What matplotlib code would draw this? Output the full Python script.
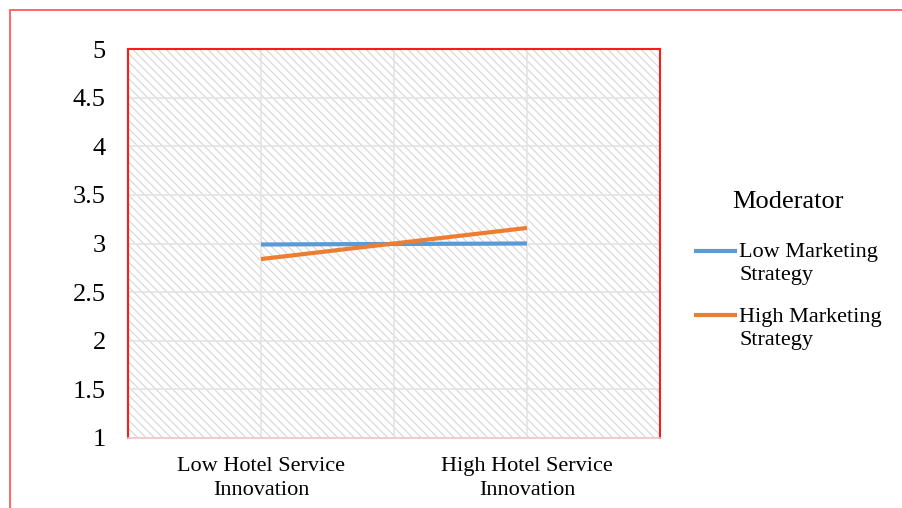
import matplotlib.pyplot as plt
from matplotlib.patches import Rectangle
from matplotlib.legend_handler import HandlerLine2D

# Chart data
categories = ["Low Hotel Service\nInnovation", "High Hotel Service\nInnovation"]
low_strategy = [2.99, 3.00]
high_strategy = [2.84, 3.16]
series_names = ["Low Marketing\nStrategy", "High Marketing\nStrategy"]
y_ticks = [1, 1.5, 2, 2.5, 3, 3.5, 4, 4.5, 5]
y_labels = ["1", "1.5", "2", "2.5", "3", "3.5", "4", "4.5", "5"]

plt.rcParams["font.family"] = ["Liberation Serif", "DejaVu Serif"]
plt.rcParams["hatch.color"] = "#d6d6d6"
plt.rcParams["hatch.linewidth"] = 0.8


class TopLineHandler(HandlerLine2D):
    # put the legend line next to the first text line, like Excel does
    def create_artists(self, legend, orig_handle, xdescent, ydescent,
                       width, height, fontsize, trans):
        artists = super().create_artists(legend, orig_handle, xdescent, ydescent,
                                         width, height, fontsize, trans)
        for a in artists:
            yd = a.get_ydata()
            a.set_ydata([v + 9 for v in yd])
        return artists


fig = plt.figure(figsize=(9.03, 5.08), dpi=100)
W, H = 903, 508

# Outer red frame (only top and left visible)
fig.add_artist(Rectangle((10 / W, -0.2), 1.5, 1.2 - 10 / H,
                         transform=fig.transFigure, fill=False,
                         edgecolor="#ff5a5a", linewidth=1.3))

ax = fig.add_axes([128 / W, 1 - 438 / H, (660 - 128) / W, (438 - 49) / H])

# Hatched plot area background
ax.add_patch(Rectangle((0, 0), 1, 1, transform=ax.transAxes,
                       facecolor="white", edgecolor="#d6d6d6",
                       hatch="\\\\\\\\", linewidth=0, zorder=0))

x = [1, 2]
ax.plot(x, low_strategy, color="#5b9bd5", linewidth=3, label=series_names[0],
        solid_capstyle="butt", zorder=3)
ax.plot(x, high_strategy, color="#ed7d31", linewidth=3, label=series_names[1],
        solid_capstyle="butt", zorder=3)

ax.set_xlim(0.5, 2.5)
ax.set_ylim(1, 5)
ax.set_yticks(y_ticks)
ax.set_yticklabels(y_labels, fontsize=19)
ax.set_xticks(x)
ax.set_xticklabels(categories, fontsize=16, linespacing=1.3)
ax.set_xticks([1.5], minor=True)
ax.tick_params(axis="both", which="both", length=0)
ax.tick_params(axis="y", pad=16)
ax.tick_params(axis="x", pad=14)

ax.grid(True, which="both", color="#e4e4e4", linewidth=1.2, zorder=1)
ax.set_axisbelow(True)

for side in ["left", "top", "right"]:
    ax.spines[side].set_color("#ff1a1a")
    ax.spines[side].set_linewidth(1.5)
ax.spines["bottom"].set_color("#f2c4c4")
ax.spines["bottom"].set_linewidth(1.2)

leg = ax.legend(title="Moderator", loc="upper left",
                bbox_to_anchor=(678 / W, 1 - 175 / H), bbox_transform=fig.transFigure,
                frameon=False, fontsize=16, title_fontsize=19,
                handlelength=1.95, handletextpad=0.1, labelspacing=1.0,
                borderpad=0.2, handler_map={plt.Line2D: TopLineHandler()})
for t in leg.get_texts():
    t.set_linespacing(1.3)
leg._legend_box.sep = 22

fig.savefig("out.png", dpi=100)
